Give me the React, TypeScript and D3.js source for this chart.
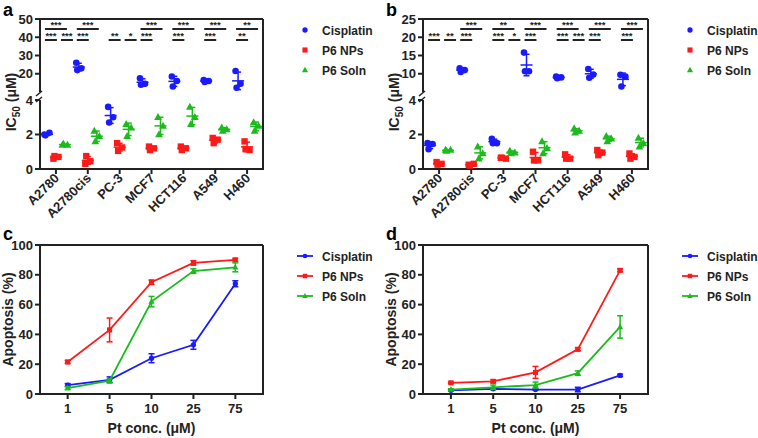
import React from 'react';
import * as d3 from 'd3';

const cellLines = ['A2780', 'A2780cis', 'PC-3', 'MCF7', 'HCT116', 'A549', 'H460'];
const seriesNames = ['Cisplatin', 'P6 NPs', 'P6 Soln'];
const colors = ['#1a1aff', '#ff1a1a', '#1cbb1c'];

// Panel a: IC50 replicates (µM)
const aCisplatin = [[2.0, 2.1, 1.95], [26, 23, 22], [3.6, 3.0, 2.7], [17.5, 14.5, 14.0], [18.5, 16, 13], [16.5, 16, 15.5], [21.5, 14.5, 12.3]];
const aNPs = [[0.6, 0.7, 0.75], [0.3, 0.45, 0.75], [1.5, 1.25, 1.05], [1.3, 1.2, 1.1], [1.3, 1.2, 1.1], [1.8, 1.7, 1.5], [1.6, 1.1, 1.15]];
const aSoln = [[1.4, 1.4, 1.45], [2.2, 1.9, 1.6], [2.6, 2.4, 1.9], [3.0, 2.5, 2.0], [3.6, 3.0, 2.6], [2.4, 2.3, 2.2], [2.7, 2.5, 2.2]];
const aSigTop = ['***', '***', '', '***', '***', '***', '**'];
const aSigLeft = ['***', '***', '**', '***', '***', '***', '**'];
const aSigRight = ['***', '', '*', '', '', '', ''];
const aUpperTicks = [20, 30, 40, 50];

// Panel b: IC50 replicates (µM)
const bCisplatin = [[1.5, 1.45, 1.15], [11.5, 11, 10.5], [1.75, 1.5, 1.5], [15.8, 10.7, 10.7], [9.2, 9.0, 8.8], [11.3, 9.8, 8.9], [9.7, 9.2, 6.5]];
const bNPs = [[0.4, 0.3, 0.25], [0.25, 0.3, 0.2], [0.65, 0.6, 0.65], [1.0, 0.5, 0.5], [0.85, 0.6, 0.6], [1.1, 0.95, 0.8], [0.9, 0.7, 0.6]];
const bSoln = [[1.1, 1.1, 1.05], [1.3, 0.9, 0.6], [1.05, 0.95, 0.9], [1.6, 1.2, 0.9], [2.35, 2.2, 2.1], [1.9, 1.75, 1.6], [1.8, 1.5, 1.3]];
const bSigTop = ['', '***', '**', '***', '***', '***', '***'];
const bSigLeft = ['***', '***', '***', '***', '***', '***', '***'];
const bSigRight = ['**', '', '*', '', '***', '', ''];
const bUpperTicks = [10, 15, 20, 25];

const lowerTicks = [0, 2, 4];

// Panels c, d: apoptosis (%)
const concentrations = ['1', '5', '10', '25', '75'];
const apoTicks = [0, 20, 40, 60, 80, 100];
const cCisplatin = [6, 9.5, 24, 33, 74];
const cCisplatinErr = [1, 2, 3, 3, 2];
const cNPs = [21.5, 43, 75, 88, 90];
const cNPsErr = [1, 8, 1.5, 1.5, 1];
const cSoln = [4, 9, 62, 82.5, 85];
const cSolnErr = [1, 1, 3.5, 1.5, 3];
const dCisplatin = [2.5, 3.5, 3, 3, 12.5];
const dCisplatinErr = [0.5, 0.5, 0.5, 1.5, 0.8];
const dNPs = [7.5, 8.5, 14.5, 30, 83];
const dNPsErr = [0.5, 1, 4, 1, 1];
const dSoln = [3, 4.5, 6, 14, 45];
const dSolnErr = [0.5, 1.5, 2, 1.5, 7.5];

const FONT = '"Liberation Sans", Arial, Helvetica, sans-serif';
const AX = '#222';
const jitter = [-2.5, 2.5, -1.5];
const groupOffsets = [-9, 0, 9];

function Marker({ kind, x, y, color, s = 1 }: { kind: number; x: number; y: number; color: string; s?: number }) {
  if (kind === 0) return <circle cx={x} cy={y} r={3.3 * s} fill={color} />;
  if (kind === 1) return <rect x={x - 3.2 * s} y={y - 3.2 * s} width={6.4 * s} height={6.4 * s} fill={color} />;
  const h = 7 * s;
  return <path d={`M${x},${y - h * 0.6}L${x + h * 0.55},${y + h * 0.4}L${x - h * 0.55},${y + h * 0.4}Z`} fill={color} />;
}

function ScatterPanel({ x0, x1, series, upperDomain, upperTicks, sigTop, sigLeft, sigRight, letter }: any) {
  const yTop = 19, yBot = 169, lowTop = 100, upBot = 92;
  const lower = d3.scaleLinear().domain([0, 4]).range([yBot, lowTop]);
  const upper = d3.scaleLinear().domain(upperDomain).range([upBot, yTop]);
  const y = (v: number) => (v <= 4 ? lower(v) : upper(v));
  const xb = d3.scaleBand().domain(cellLines).range([x0, x1]);
  const cx = (c: string) => (xb(c) as number) + xb.bandwidth() / 2;
  return (
    <g>
      <text x={x0 - 37} y={16} fontSize={18} fontWeight="bold" fontFamily={FONT}>{letter}</text>
      <line x1={x0} x2={x1} y1={yTop} y2={yTop} stroke={AX} strokeWidth={2} />
      <line x1={x1} x2={x1} y1={yTop} y2={yBot} stroke={AX} strokeWidth={2} />
      <line x1={x0 - 1} x2={x1 + 1} y1={yBot} y2={yBot} stroke={AX} strokeWidth={2} />
      <line x1={x0} x2={x0} y1={yTop - 1} y2={upBot} stroke={AX} strokeWidth={2} />
      <line x1={x0} x2={x0} y1={lowTop} y2={yBot} stroke={AX} strokeWidth={2} />
      <line x1={x0 - 4} x2={x0 + 2} y1={upBot + 4} y2={upBot - 1} stroke={AX} strokeWidth={1.5} />
      <line x1={x0 - 4} x2={x0 + 2} y1={lowTop + 2} y2={lowTop - 3} stroke={AX} strokeWidth={1.5} />
      {upperTicks.map((t: number) => (
        <g key={'u' + t}>
          <line x1={x0 - 5} x2={x0} y1={upper(t)} y2={upper(t)} stroke={AX} strokeWidth={2} />
          <text x={x0 - 7} y={upper(t) + 4.5} textAnchor="end" fontSize={13} fontWeight="bold" fontFamily={FONT} fill="#222">{t}</text>
        </g>
      ))}
      {lowerTicks.map((t) => (
        <g key={'l' + t}>
          <line x1={x0 - 5} x2={x0} y1={lower(t)} y2={lower(t)} stroke={AX} strokeWidth={2} />
          <text x={x0 - 7} y={lower(t) + 4.5} textAnchor="end" fontSize={13} fontWeight="bold" fontFamily={FONT} fill="#222">{t}</text>
        </g>
      ))}
      <text transform={`translate(${x0 - 24},${(yTop + yBot) / 2 + 8}) rotate(-90)`} textAnchor="middle" fontSize={14} fontWeight="bold" fontFamily={FONT} fill="#222">
        IC<tspan fontSize={10} dy={4}>50</tspan><tspan dy={-4}> (μM)</tspan>
      </text>
      {cellLines.map((c) => (
        <g key={c}>
          <line x1={cx(c)} x2={cx(c)} y1={yBot} y2={yBot + 5} stroke={AX} strokeWidth={2} />
          <text transform={`translate(${cx(c) + 4},${yBot + 10}) rotate(-45)`} textAnchor="end" fontSize={13} fontWeight="bold" fontFamily={FONT} fill="#222">{c}</text>
        </g>
      ))}
      {series.map((vals: number[][], si: number) =>
        cellLines.map((c, ci) => {
          const v = vals[ci];
          const m = d3.mean(v) as number;
          const sd = d3.deviation(v) as number;
          const gx = cx(c) + groupOffsets[si];
          return (
            <g key={si + c}>
              <line x1={gx} x2={gx} y1={y(m - sd)} y2={y(m + sd)} stroke={colors[si]} strokeWidth={1.5} />
              <line x1={gx - 3} x2={gx + 3} y1={y(m - sd)} y2={y(m - sd)} stroke={colors[si]} strokeWidth={1.5} />
              <line x1={gx - 3} x2={gx + 3} y1={y(m + sd)} y2={y(m + sd)} stroke={colors[si]} strokeWidth={1.5} />
              <line x1={gx - 6} x2={gx + 6} y1={y(m)} y2={y(m)} stroke={colors[si]} strokeWidth={1.5} />
              {v.map((val, k) => (
                <Marker key={k} kind={si} x={gx + jitter[k]} y={y(val)} color={colors[si]} />
              ))}
            </g>
          );
        })
      )}
      {cellLines.map((c, ci) => {
        const g = cx(c);
        const items: any[] = [];
        if (sigTop[ci]) items.push({ a: g - 11, b: g + 11, yy: 29, t: sigTop[ci] });
        if (sigLeft[ci]) items.push({ a: g - 11, b: g + 1, yy: 40, t: sigLeft[ci] });
        if (sigRight[ci]) items.push({ a: g + 5, b: g + 17, yy: 40, t: sigRight[ci] });
        return items.map((it, k) => (
          <g key={c + k}>
            <line x1={it.a} x2={it.b} y1={it.yy} y2={it.yy} stroke="#222" strokeWidth={2} />
            <text x={(it.a + it.b) / 2} y={it.yy - 1} textAnchor="middle" fontSize={9.5} fontWeight="bold" fontFamily={FONT} fill="#222">{it.t}</text>
          </g>
        ));
      })}
    </g>
  );
}

function LinePanel({ x0, x1, series, errs, letter }: any) {
  const yTop = 245, yBot = 394;
  const yS = d3.scaleLinear().domain([0, 100]).range([yBot, yTop]);
  const xS = d3.scalePoint().domain(concentrations).range([x0, x1]).padding(0.66);
  const line = d3.line<number>().x((_, i) => xS(concentrations[i]) as number).y((v) => yS(v));
  return (
    <g>
      <text x={x0 - 37} y={240} fontSize={18} fontWeight="bold" fontFamily={FONT}>{letter}</text>
      <line x1={x0} x2={x1} y1={yTop} y2={yTop} stroke={AX} strokeWidth={2} />
      <line x1={x1} x2={x1} y1={yTop} y2={yBot} stroke={AX} strokeWidth={2} />
      <line x1={x0 - 1} x2={x1 + 1} y1={yBot} y2={yBot} stroke={AX} strokeWidth={2} />
      <line x1={x0} x2={x0} y1={yTop - 1} y2={yBot} stroke={AX} strokeWidth={2} />
      {apoTicks.map((t) => (
        <g key={t}>
          <line x1={x0 - 5} x2={x0} y1={yS(t)} y2={yS(t)} stroke={AX} strokeWidth={2} />
          <text x={x0 - 7} y={yS(t) + 4.5} textAnchor="end" fontSize={13} fontWeight="bold" fontFamily={FONT} fill="#222">{t}</text>
        </g>
      ))}
      {concentrations.map((c) => (
        <g key={c}>
          <line x1={xS(c)} x2={xS(c)} y1={yBot} y2={yBot + 5} stroke={AX} strokeWidth={2} />
          <text x={xS(c)} y={yBot + 19} textAnchor="middle" fontSize={13} fontWeight="bold" fontFamily={FONT} fill="#222">{c}</text>
        </g>
      ))}
      <text x={(x0 + x1) / 2} y={433} textAnchor="middle" fontSize={14} fontWeight="bold" fontFamily={FONT} fill="#222">Pt conc. (μM)</text>
      <text transform={`translate(${x0 - 27},${(yTop + yBot) / 2}) rotate(-90)`} textAnchor="middle" fontSize={14} fontWeight="bold" fontFamily={FONT} fill="#222">Apoptosis (%)</text>
      {series.map((vals: number[], si: number) => (
        <g key={si}>
          <path d={line(vals) as string} fill="none" stroke={colors[si]} strokeWidth={1.8} />
          {vals.map((v, i) => {
            const px = xS(concentrations[i]) as number;
            const e = errs[si][i];
            return (
              <g key={i}>
                <line x1={px} x2={px} y1={yS(v - e)} y2={yS(v + e)} stroke={colors[si]} strokeWidth={1.5} />
                <line x1={px - 3} x2={px + 3} y1={yS(v - e)} y2={yS(v - e)} stroke={colors[si]} strokeWidth={1.5} />
                <line x1={px - 3} x2={px + 3} y1={yS(v + e)} y2={yS(v + e)} stroke={colors[si]} strokeWidth={1.5} />
                <Marker kind={si} x={px} y={yS(v)} color={colors[si]} s={0.8} />
              </g>
            );
          })}
        </g>
      ))}
    </g>
  );
}

function Legend({ x, y0, withLine }: { x: number; y0: number; withLine: boolean }) {
  return (
    <g>
      {seriesNames.map((n, i) => {
        const yy = y0 + i * 20;
        return (
          <g key={n}>
            {withLine && <line x1={x - 8} x2={x + 8} y1={yy} y2={yy} stroke={colors[i]} strokeWidth={1.8} />}
            <Marker kind={i} x={x} y={yy} color={colors[i]} s={withLine ? 0.7 : 0.8} />
            <text x={x + 17} y={yy + 4.5} fontSize={12} fontWeight="bold" fontFamily={FONT} fill="#222">{n}</text>
          </g>
        );
      })}
    </g>
  );
}

export default function App() {
  return (
    <svg width={758} height={438} style={{ position: 'absolute', left: 0, top: 0, background: '#fff' }}>
      <ScatterPanel x0={40} x1={263} series={[aCisplatin, aNPs, aSoln]} upperDomain={[10, 50]} upperTicks={aUpperTicks} sigTop={aSigTop} sigLeft={aSigLeft} sigRight={aSigRight} letter="a" />
      <ScatterPanel x0={423} x1={648} series={[bCisplatin, bNPs, bSoln]} upperDomain={[5, 25]} upperTicks={bUpperTicks} sigTop={bSigTop} sigLeft={bSigLeft} sigRight={bSigRight} letter="b" />
      <LinePanel x0={40} x1={263} series={[cCisplatin, cNPs, cSoln]} errs={[cCisplatinErr, cNPsErr, cSolnErr]} letter="c" />
      <LinePanel x0={423} x1={648} series={[dCisplatin, dNPs, dSoln]} errs={[dCisplatinErr, dNPsErr, dSolnErr]} letter="d" />
      <Legend x={305} y0={30} withLine={false} />
      <Legend x={690} y0={30} withLine={false} />
      <Legend x={305} y0={256} withLine={true} />
      <Legend x={690} y0={256} withLine={true} />
    </svg>
  );
}
